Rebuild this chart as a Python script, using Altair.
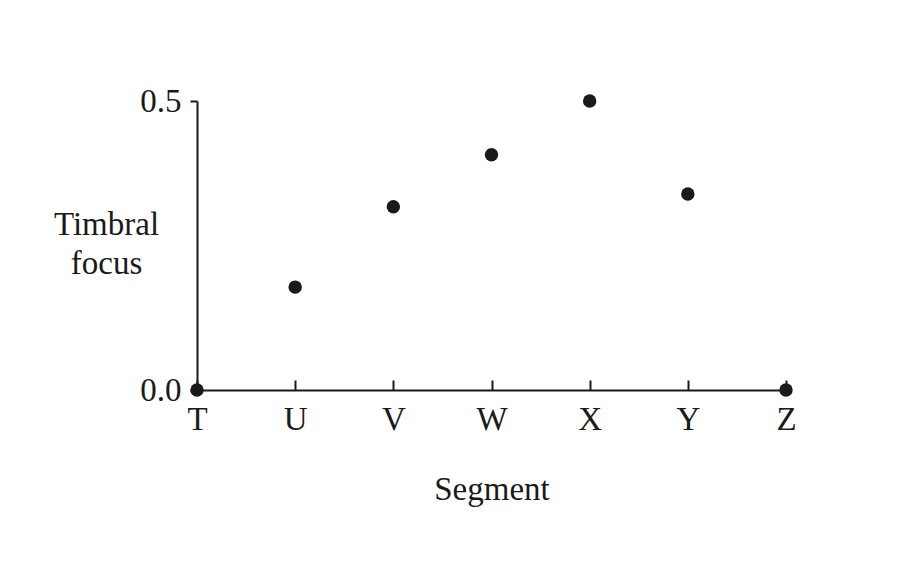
import pandas as pd
import altair as alt

# values
segments = ["T", "U", "V", "W", "X", "Y", "Z"]
focus = [0.0, 0.178, 0.317, 0.407, 0.5, 0.339, 0.0]

data = pd.DataFrame({"segment": segments, "focus": focus})

serif = "Liberation Serif"
ink = "#1a1a1a"
fsize = 33

x_scale = alt.Scale(type="point", padding=0)

# points + bottom axis (labels, title) + left axis
points = alt.Chart(data).mark_circle(size=180, color=ink, opacity=1).encode(
    x=alt.X("segment:N", sort=segments, scale=x_scale,
            axis=alt.Axis(title="Segment", labelAngle=0, ticks=False, grid=False,
                          domainColor=ink, domainWidth=2,
                          labelFont=serif, labelFontSize=fsize, labelColor=ink,
                          labelPadding=13,
                          titleFont=serif, titleFontSize=fsize, titleFontWeight="normal",
                          titleColor=ink, titleY=109, titleBaseline="alphabetic")),
    y=alt.Y("focus:Q", scale=alt.Scale(domain=[0, 0.5], nice=False),
            axis=alt.Axis(values=[0, 0.5], format=".1f", grid=False,
                          title=["Timbral", "focus"], titleAngle=0,
                          titleAlign="center", titleBaseline="alphabetic",
                          titleX=-91, titleY=133, titleLineHeight=39,
                          titleFont=serif, titleFontSize=fsize, titleFontWeight="normal",
                          titleColor=ink,
                          domainColor=ink, domainWidth=2,
                          tickColor=ink, tickWidth=2, tickSize=7,
                          labelFont=serif, labelFontSize=fsize, labelColor=ink,
                          labelPadding=9)),
)

# inward-pointing ticks on the x axis (top axis moved down onto the baseline)
ticks = alt.Chart(data).mark_circle(opacity=0).encode(
    x=alt.X("segment:N", sort=segments, scale=x_scale,
            axis=alt.Axis(orient="top", offset=-289, labels=False, title=None,
                          grid=False, domain=False,
                          tickColor=ink, tickWidth=2, tickSize=10)),
)

chart = alt.layer(ticks, points).resolve_axis(x="independent").properties(
    width=589,
    height=289,
    background="white",
    autosize=alt.AutoSizeParams(type="none"),
    padding={"left": 189, "top": 93, "right": 100, "bottom": 150},
).configure_view(stroke=None)

chart.save("out.html", embed_options={"renderer": "svg", "actions": False})
